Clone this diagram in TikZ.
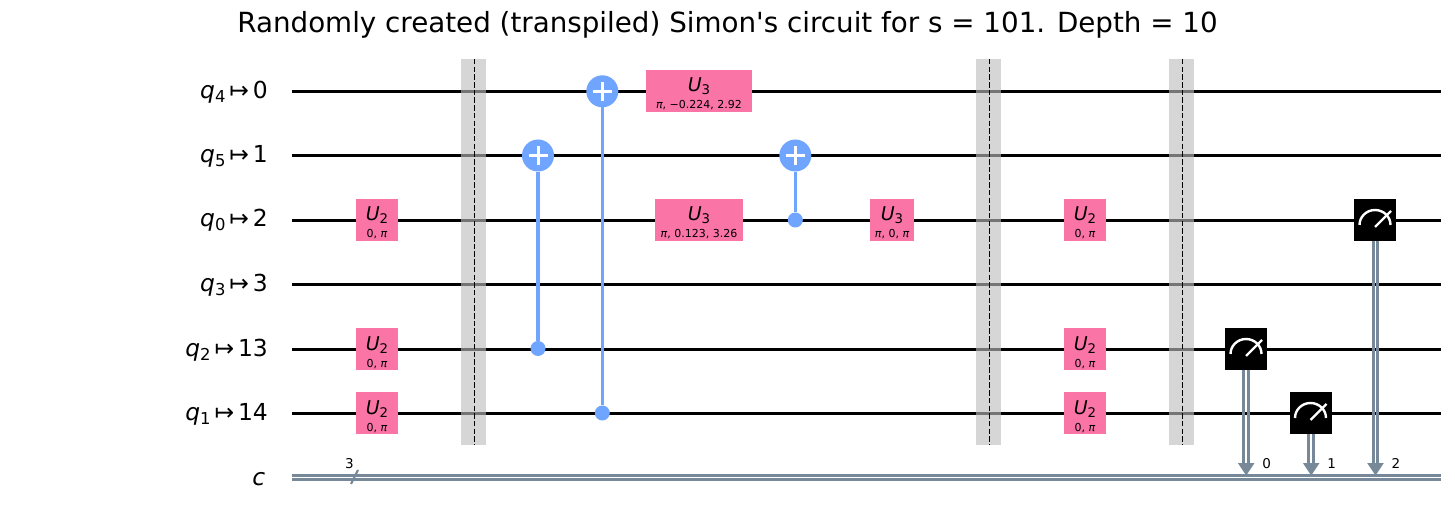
\documentclass[tikz,border=0pt]{standalone}
\usepackage{fontspec}
\setmainfont{DejaVu Sans}
\newfontfamily\plainfont{DejaVu Sans}
\usetikzlibrary{arrows.meta}
\definecolor{gatepink}{HTML}{FA74A6}
\definecolor{cxblue}{HTML}{6FA4FF}
\definecolor{clgray}{HTML}{778899}
\definecolor{barfill}{HTML}{BDBDBD}
\newcommand{\fs}[1]{\fontsize{#1pt}{#1pt}\selectfont}
\newcommand{\qlab}[2]{{\fs{23.4}\itshape q}\raisebox{-4pt}{\fs{16.4}#1}{\fs{23.4}\,↦\,#2}}
\newcommand{\ulab}[1]{{\fs{19}\itshape U}\raisebox{-3pt}{\fs{13.3}#1}}
\newcommand{\pis}{{\itshape π}}
\tikzset{
  wire/.style={draw=black,line width=3pt},
  clwire/.style={draw=clgray,line width=3pt},
  gatebox/.style={fill=gatepink,draw=none,inner sep=0pt,minimum height=42pt},
  barrierbox/.style={fill=barfill,fill opacity=0.62,draw=none,inner sep=0pt,minimum width=25pt,minimum height=386pt},
  barrierdash/.style={draw=black,line width=1.8pt,dash pattern=on 5.5pt off 2.2pt},
  cxline/.style={draw=cxblue,line width=3.4pt},
  target/.style={circle,fill=cxblue,draw=none,minimum size=32pt,inner sep=0pt},
  ctrl/.style={circle,fill=cxblue,draw=none,minimum size=15pt,inner sep=0pt},
  plusmark/.style={draw=white,line width=3pt},
  meter/.style={fill=black,draw=none,minimum size=42pt,inner sep=0pt},
  needle/.style={draw=white,line width=2.4pt},
  wirelabel/.style={anchor=base east,inner sep=0pt},
  txt/.style={anchor=base,inner sep=0pt},
  small/.style={txt,font=\fs{13.5}}
}
% name, x, y, width, subscript, params
\newcommand{\gate}[6]{%
  \node[gatebox,minimum width=#4pt] (#1) at (#2,#3) {};
  \node[txt] (#1u) at (#2,#3+1) {\ulab{#5}};
  \node[txt,font=\fs{11}] (#1p) at (#2,#3+18) {#6};
}
% name, x, y
\newcommand{\meas}[3]{%
  \node[meter] (#1) at (#2,#3) {};
  \draw[needle] (#2-15.5,#3+5) arc[start angle=180,end angle=0,x radius=15.5pt,y radius=15pt];
  \draw[needle] (#2,#3+7) -- (#2+16,#3-9);
}
% name, x, y-top, y-ctrl
\newcommand{\cx}[4]{%
  \node[target] (#1t) at (#2,#3) {};
  \node[ctrl] (#1c) at (#2,#4) {};
  \draw[cxline] (#1t) -- (#1c);
  \draw[plusmark] (#2-9.5,#3) -- (#2+9.5,#3);
  \draw[plusmark] (#2,#3-9.5) -- (#2,#3+9.5);
}
% meter name, x, index label
\newcommand{\clarrow}[3]{%
  \coordinate (#1e) at (#2,463);
  \coordinate (#1tip) at (#2,475.5);
  \coordinate (#1s) at (#2,370);
  \draw[clwire] ([xshift=-2.45pt]#1s |- #1.south) -- ([xshift=-2.45pt]#1e);
  \draw[clwire] ([xshift=2.45pt]#1s |- #1.south) -- ([xshift=2.45pt]#1e);
  \fill[clgray] (#2-8.3,463) -- (#2+8.3,463) -- (#1tip) -- cycle;
  \node[small] (#1n) at (#2+20.5,468) {#3};
}
\begin{document}
\begin{tikzpicture}[x=1pt,y=-1pt]
\useasboundingbox (0,0) rectangle (1455,526);
\fill[white] (0,0) rectangle (1455,526);
\node[anchor=base,inner sep=0pt,font=\plainfont\fs{27.75}] (title) at (727.5,32.5) {Randomly created (transpiled) Simon's circuit for s = 101. Depth = 10};
% wires
\foreach \n/\y in {a/91.3,b/155.5,c/220.6,d/284.5,e/349.5,f/413.5}{
  \coordinate (\n l) at (292,\y);
  \coordinate (\n r) at (1441,\y);
  \draw[wire] (\n l) -- (\n r);
}
\coordinate (cla) at (292,475.6);
\coordinate (clb) at (1441,475.6);
\coordinate (clc) at (292,479.5);
\coordinate (cld) at (1441,479.5);
\draw[clwire,line width=2.6pt] (cla) -- (clb);
\draw[clwire,line width=2.6pt] (clc) -- (cld);
\coordinate (sla) at (351,484);
\coordinate (slb) at (358,470);
\draw[draw=clgray,line width=2.2pt] (sla) -- (slb);
\node[small] (three) at (349.5,468) {3};
% labels
\node[wirelabel] (la) at (268,98.5) {\qlab{4}{0}};
\node[wirelabel] (lb) at (268,162.5) {\qlab{5}{1}};
\node[wirelabel] (lc) at (268,227) {\qlab{0}{2}};
\node[wirelabel] (ld) at (268,291.5) {\qlab{3}{3}};
\node[wirelabel] (le) at (268,356.5) {\qlab{2}{13}};
\node[wirelabel] (lf) at (268,420.5) {\qlab{1}{14}};
\node[wirelabel] (lg) at (265.5,485) {\fs{23.4}\itshape c};
% barriers
\foreach \n/\x/\dx in {ba/473.3/474.5,bb/988.5/989.5,bc/1181/1182.5}{
  \node[barrierbox] (\n) at (\x,252) {};
  \coordinate (\n t) at (\dx,59);
  \coordinate (\n b) at (\dx,445);
  \draw[barrierdash] (\n t) -- (\n b);
}
% gates
\gate{ga}{377}{220}{42}{2}{0, \pis}
\gate{gb}{377}{349}{42}{2}{0, \pis}
\gate{gc}{377}{413}{42}{2}{0, \pis}
\cx{xa}{538}{155.5}{348.5}
\cx{xb}{602.3}{91.3}{413}
\gate{gd}{699}{91}{106}{3}{\pis, −0.224, 2.92}
\gate{ge}{699}{220}{88}{3}{\pis, 0.123, 3.26}
\cx{xc}{795.3}{155.5}{220}
\gate{gf}{892}{220}{44}{3}{\pis, 0, \pis}
\gate{gg}{1085}{220}{42}{2}{0, \pis}
\gate{gh}{1085}{349}{42}{2}{0, \pis}
\gate{gi}{1085}{413}{42}{2}{0, \pis}
% measures
\meas{ma}{1246}{349}
\meas{mb}{1310.5}{413}
\meas{mc}{1375}{220}
\clarrow{ma}{1246.2}{0}
\clarrow{mb}{1311.2}{1}
\clarrow{mc}{1375.5}{2}
\end{tikzpicture}
\end{document}
